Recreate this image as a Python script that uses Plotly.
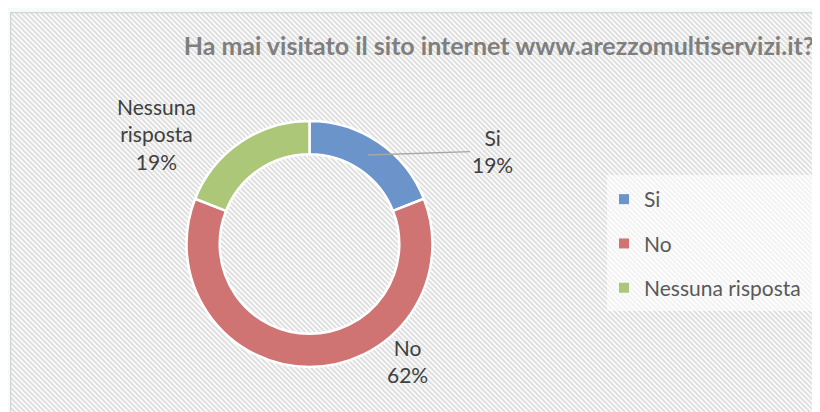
import base64
import plotly.graph_objects as go

# ---- data ----
categories = ["Si", "No", "Nessuna risposta"]
values = [19, 62, 19]
colors = ["#6b94cb", "#cf7472", "#adc779"]
title_text = "Ha mai visitato il sito internet www.arezzomultiservizi.it?"

W, H = 820, 412
OFF = 8  # page body margin of the browser

def px(x):
    return (x - OFF) / W

def py(y):
    return 1 - (y - OFF) / H

# hatched chart-area background (decoration)
svg = f'''<svg xmlns="http://www.w3.org/2000/svg" width="{W}" height="{H}" viewBox="0 0 {W} {H}">
<defs><pattern id="p" width="5" height="5" patternUnits="userSpaceOnUse">
<rect width="5" height="5" fill="#fbfbfb"/>
<path d="M-1,-1 L6,6 M-1,4 L1,6 M4,-1 L6,1" stroke="#dedede" stroke-width="1.8"/>
</pattern></defs>
<rect x="0.5" y="0.5" width="{W+20}" height="{H+20}" fill="url(#p)" stroke="#d4d4d4" stroke-width="1.5"/>
</svg>'''
src = "data:image/svg+xml;base64," + base64.b64encode(svg.encode()).decode()

fig = go.Figure()

cx0, cx1 = px(186.5), px(432.5)
cy0, cy1 = py(367), py(121)

fig.add_trace(go.Pie(
    labels=categories,
    values=values,
    hole=0.73,
    sort=False,
    direction="clockwise",
    rotation=0,
    marker=dict(colors=colors, line=dict(color="#ffffff", width=2.5)),
    textinfo="none",
    hoverinfo="label+percent",
    showlegend=False,
    domain=dict(x=[cx0, cx1], y=[cy0, cy1]),
))

# legend entries (one group per category so they are spaced apart)
for cat, col in zip(categories, colors):
    fig.add_trace(go.Scatter(
        x=[None], y=[None], mode="markers", name=cat, legendgroup=cat,
        marker=dict(symbol="square", size=10, color=col),
        showlegend=True, hoverinfo="skip",
    ))

total = sum(values)
FONT = "Lato, Carlito, sans-serif"
label_font = dict(family=FONT, size=21, color="#404040")

def lbl(cat, v):
    name = cat.replace(" ", "<br>")
    return f"{name}<br>{round(100 * v / total)}%"

annotations = [
    # Si (with leader line)
    dict(x=px(368), y=py(155), xref="paper", yref="paper",
         text=lbl(categories[0], values[0]), showarrow=True, arrowhead=0,
         arrowcolor="#a6a6a6", arrowwidth=1.3, ax=124, ay=-4, font=label_font,
         align="center"),
    # No
    dict(x=px(407), y=py(361), xref="paper", yref="paper",
         xanchor="center", yanchor="middle",
         text=lbl(categories[1], values[1]), showarrow=False, font=label_font,
         align="center"),
    # Nessuna risposta
    dict(x=px(156), y=py(134), xref="paper", yref="paper",
         xanchor="center", yanchor="middle",
         text=lbl(categories[2], values[2]), showarrow=False, font=label_font,
         align="center"),
]

fig.update_layout(
    width=W, height=H,
    margin=dict(l=0, r=0, t=0, b=0),
    paper_bgcolor="#f3fbfb",
    plot_bgcolor="rgba(0,0,0,0)",
    xaxis=dict(visible=False), yaxis=dict(visible=False),
    images=[dict(source=src, xref="paper", yref="paper", x=px(10), y=py(12),
                 sizex=1, sizey=1, sizing="stretch", xanchor="left",
                 yanchor="top", layer="below")],
    shapes=[dict(type="rect", xref="paper", yref="paper",
                 x0=px(607), x1=px(835), y0=py(311), y1=py(175),
                 fillcolor="rgba(255,255,255,0.6)", line=dict(width=0),
                 layer="below")],
    title=dict(text=f"<b>{title_text}</b>", x=px(499), xanchor="center",
               y=py(46), yanchor="middle", yref="container",
               font=dict(family=FONT, size=25, color="#7f7f7f")),
    legend=dict(x=px(604), y=py(179), xanchor="left", yanchor="top",
                bgcolor="rgba(0,0,0,0)", tracegroupgap=14,
                font=dict(family=FONT, size=21, color="#595959"),
                itemclick=False),
    annotations=annotations,
)

fig.write_html("out.html")
